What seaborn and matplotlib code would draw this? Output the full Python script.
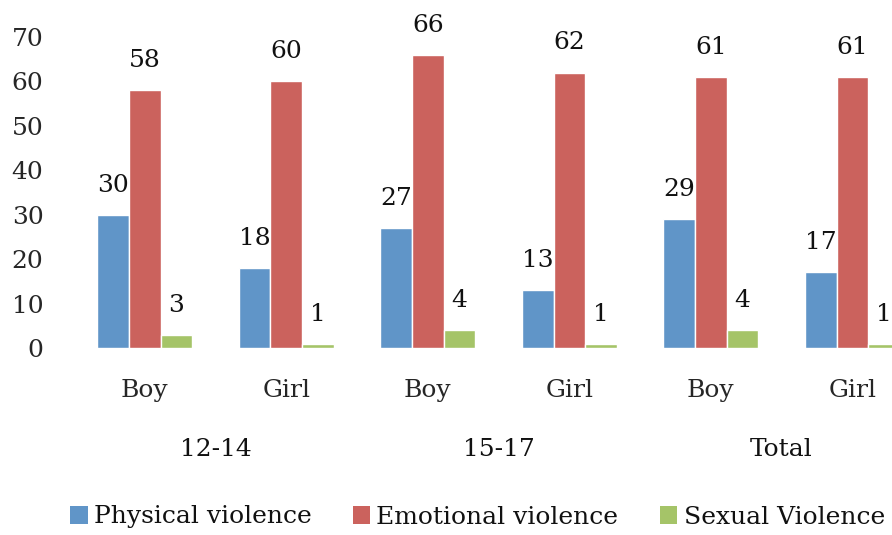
import matplotlib
matplotlib.use("Agg")
import matplotlib.pyplot as plt
from matplotlib.patches import Patch
import pandas as pd
import seaborn as sns

# data
age_groups = ["12-14", "15-17", "Total"]
sexes = ["Boy", "Girl"]
series_names = ["Physical violence", "Emotional violence", "Sexual Violence"]
physical = [30, 18, 27, 13, 29, 17]
emotional = [58, 60, 66, 62, 61, 61]
sexual = [3, 1, 4, 1, 4, 1]
y_ticks = [0, 10, 20, 30, 40, 50, 60, 70]

colors = ["#6095C8", "#CB625D", "#A5C468"]
FS = 18

categories = [f"{g} {s}" for g in age_groups for s in sexes]
sub_labels = [s for _ in age_groups for s in sexes]

df = pd.DataFrame(
    {
        "category": categories * 3,
        "series": [n for n in series_names for _ in categories],
        "value": physical + emotional + sexual,
    }
)

sns.set_style("white")
plt.rcParams["font.family"] = ["DejaVu Serif"]
plt.rcParams["text.color"] = "#111111"

fig = plt.figure(figsize=(8.92, 5.35), dpi=100)
ax = fig.add_axes([74 / 892, 1 - 348 / 535, 1 - 74 / 892, 311 / 535])

sns.barplot(
    data=df,
    x="category",
    y="value",
    hue="series",
    hue_order=series_names,
    order=categories,
    palette=colors,
    width=0.67,
    gap=0,
    saturation=1,
    legend=False,
    ax=ax,
)

for container in ax.containers:
    ax.bar_label(container, padding=13, fontsize=FS, color="#111111")

ax.set_ylim(0, 70)
ax.set_xlim(-0.5, 5.28)
ax.set_yticks(y_ticks)
ax.set_yticklabels([str(v) for v in y_ticks], fontsize=FS)
ax.set_xticks(range(len(categories)))
ax.set_xticklabels(sub_labels, fontsize=FS)
ax.tick_params(axis="x", length=0, pad=22)
ax.tick_params(axis="y", length=0, pad=22)
ax.set_xlabel("")
ax.set_ylabel("")
for side in ["top", "right", "left", "bottom"]:
    ax.spines[side].set_visible(False)

for i, group in enumerate(age_groups):
    ax.text(
        2 * i + 0.5,
        -0.325,
        group,
        transform=ax.get_xaxis_transform(),
        ha="center",
        va="center",
        fontsize=FS,
    )

handles = [Patch(facecolor=c, edgecolor="none") for c in colors]
fig.legend(
    handles,
    series_names,
    loc="center left",
    bbox_to_anchor=(70 / 892, 1 - 517 / 535),
    ncol=3,
    frameon=False,
    fontsize=FS,
    handlelength=0.7,
    handleheight=0.7,
    handletextpad=0.25,
    columnspacing=1.65,
    borderaxespad=0,
    borderpad=0,
)

fig.savefig("out.png", dpi=100)
